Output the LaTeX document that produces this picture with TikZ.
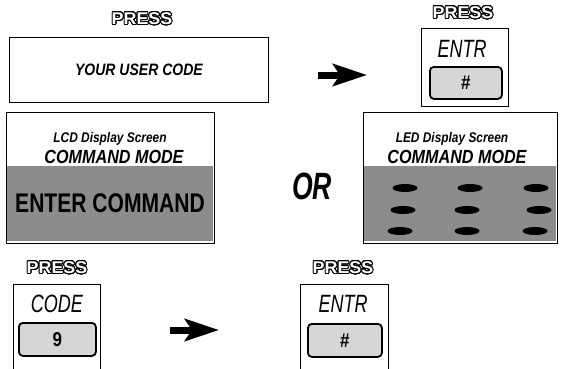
\documentclass[tikz,border=0pt]{standalone}
\usepackage{fontspec}
\usepackage{contour}
\usetikzlibrary{arrows.meta,shapes.geometric}
\setmainfont{Liberation Sans}
\newfontfamily\condA[FakeStretch=0.85]{Liberation Sans}
\newfontfamily\condB[FakeStretch=0.78]{Liberation Sans}
\newfontfamily\condC[FakeStretch=0.72]{Liberation Sans}
\newfontfamily\condD[FakeStretch=0.7]{Liberation Sans}
\newfontfamily\wideA[FakeStretch=1.05]{Liberation Sans}
\contourlength{0.9pt}
\contournumber{32}
\newcommand\presslabel{\contour{black}{\textcolor{white}{PRESS}}}
\begin{document}
\begin{tikzpicture}[x=1pt,y=-1pt,
  box/.style={draw=black,line width=0.9pt,inner sep=0pt,anchor=north west},
  screen/.style={fill=black!45,draw=none,inner sep=0pt,anchor=north west},
  keybox/.style={draw=black,line width=1.8pt,rounded corners=4pt,fill=black!16,inner sep=0pt,anchor=north west},
  press/.style={inner sep=0pt,font=\fontsize{17}{17}\selectfont\wideA\bfseries},
  bigarrow/.style={line width=7pt,-{Stealth[length=34pt,width=22pt,inset=7pt]}},
  ledseg/.style={fill=black,draw=none,ellipse,minimum width=25pt,minimum height=8pt,inner sep=0pt},
  keytitle/.style={inner sep=0pt,font=\fontsize{25}{25}\selectfont\condC\itshape},
  keylabel/.style={inner sep=0pt,font=\fontsize{20}{20}\selectfont\condA\bfseries},
  small/.style={inner sep=0pt,font=\fontsize{14}{14}\selectfont\condA\bfseries\itshape},
  mode/.style={inner sep=0pt,font=\fontsize{19}{19}\selectfont\condA\bfseries\itshape}
]
\useasboundingbox (0,0) rectangle (562,368);
\clip (0,0) rectangle (562,368);

% --- top row ---
\node[press] (p1) at (142,19) {\presslabel};
\node[box,minimum width=259pt,minimum height=65pt,
      font=\fontsize{16.5}{16.5}\selectfont\condA\bfseries\itshape] (b1) at (9,37) {YOUR USER CODE};

\coordinate (a1s) at (318,75);
\coordinate (a1e) at (367,75);
\draw[bigarrow] (a1s) -- (a1e);

\node[press] (p2) at (463,13) {\presslabel};
\node[box,minimum width=87pt,minimum height=78pt] (k1) at (421,28) {};
\node[keytitle] (k1t) at (462,49) {ENTR};
\node[keybox,minimum width=72pt,minimum height=32pt] (k1b) at (429,66) {};
\node[keylabel] (k1l) at (k1b.center) {\#};

% --- LCD screen ---
\node[box,minimum width=208pt,minimum height=131pt] (lcd) at (6,112) {};
\node[screen,minimum width=206pt,minimum height=75pt] (lcds) at (7,166) {};
\node[small] (lcdt) at (110,139) {LCD Display Screen};
\node[mode] (lcdm) at (114,157) {COMMAND MODE};
\node[inner sep=0pt,font=\fontsize{27}{27}\selectfont\condB\bfseries] (lcde) at (110,203) {ENTER COMMAND};

% --- OR ---
\node[inner sep=0pt,font=\fontsize{38}{38}\selectfont\condD\bfseries\itshape] (or) at (312,186) {OR};

% --- LED screen ---
\node[box,minimum width=194pt,minimum height=131pt] (led) at (363,112) {};
\node[screen,minimum width=192pt,minimum height=75pt] (leds) at (364,166) {};
\node[small] (ledt) at (452,139) {LED Display Screen};
\node[mode] (ledm) at (457,157) {COMMAND MODE};
\node[ledseg] (s11) at (405,188) {};
\node[ledseg] (s12) at (470,188) {};
\node[ledseg] (s13) at (536,188) {};
\node[ledseg] (s21) at (403,210) {};
\node[ledseg] (s22) at (467,210) {};
\node[ledseg] (s23) at (539,210) {};
\node[ledseg] (s31) at (400,231) {};
\node[ledseg] (s32) at (467,231) {};
\node[ledseg] (s33) at (535,231) {};

% --- bottom row ---
\node[press] (p3) at (57,268) {\presslabel};
\node[box,minimum width=87pt,minimum height=100pt] (k2) at (13,284) {};
\node[keytitle] (k2t) at (57,304) {CODE};
\node[keybox,minimum width=77pt,minimum height=33pt] (k2b) at (18,322) {};
\node[keylabel] (k2l) at (k2b.center) {9};

\coordinate (a2s) at (170,330);
\coordinate (a2e) at (219,330);
\draw[bigarrow] (a2s) -- (a2e);

\node[press] (p4) at (343,268) {\presslabel};
\node[box,minimum width=88pt,minimum height=100pt] (k3) at (300,284) {};
\node[keytitle] (k3t) at (343,304) {ENTR};
\node[keybox,minimum width=74pt,minimum height=33pt] (k3b) at (307,323) {};
\node[keylabel] (k3l) at (k3b.center) {\#};
\end{tikzpicture}
\end{document}
